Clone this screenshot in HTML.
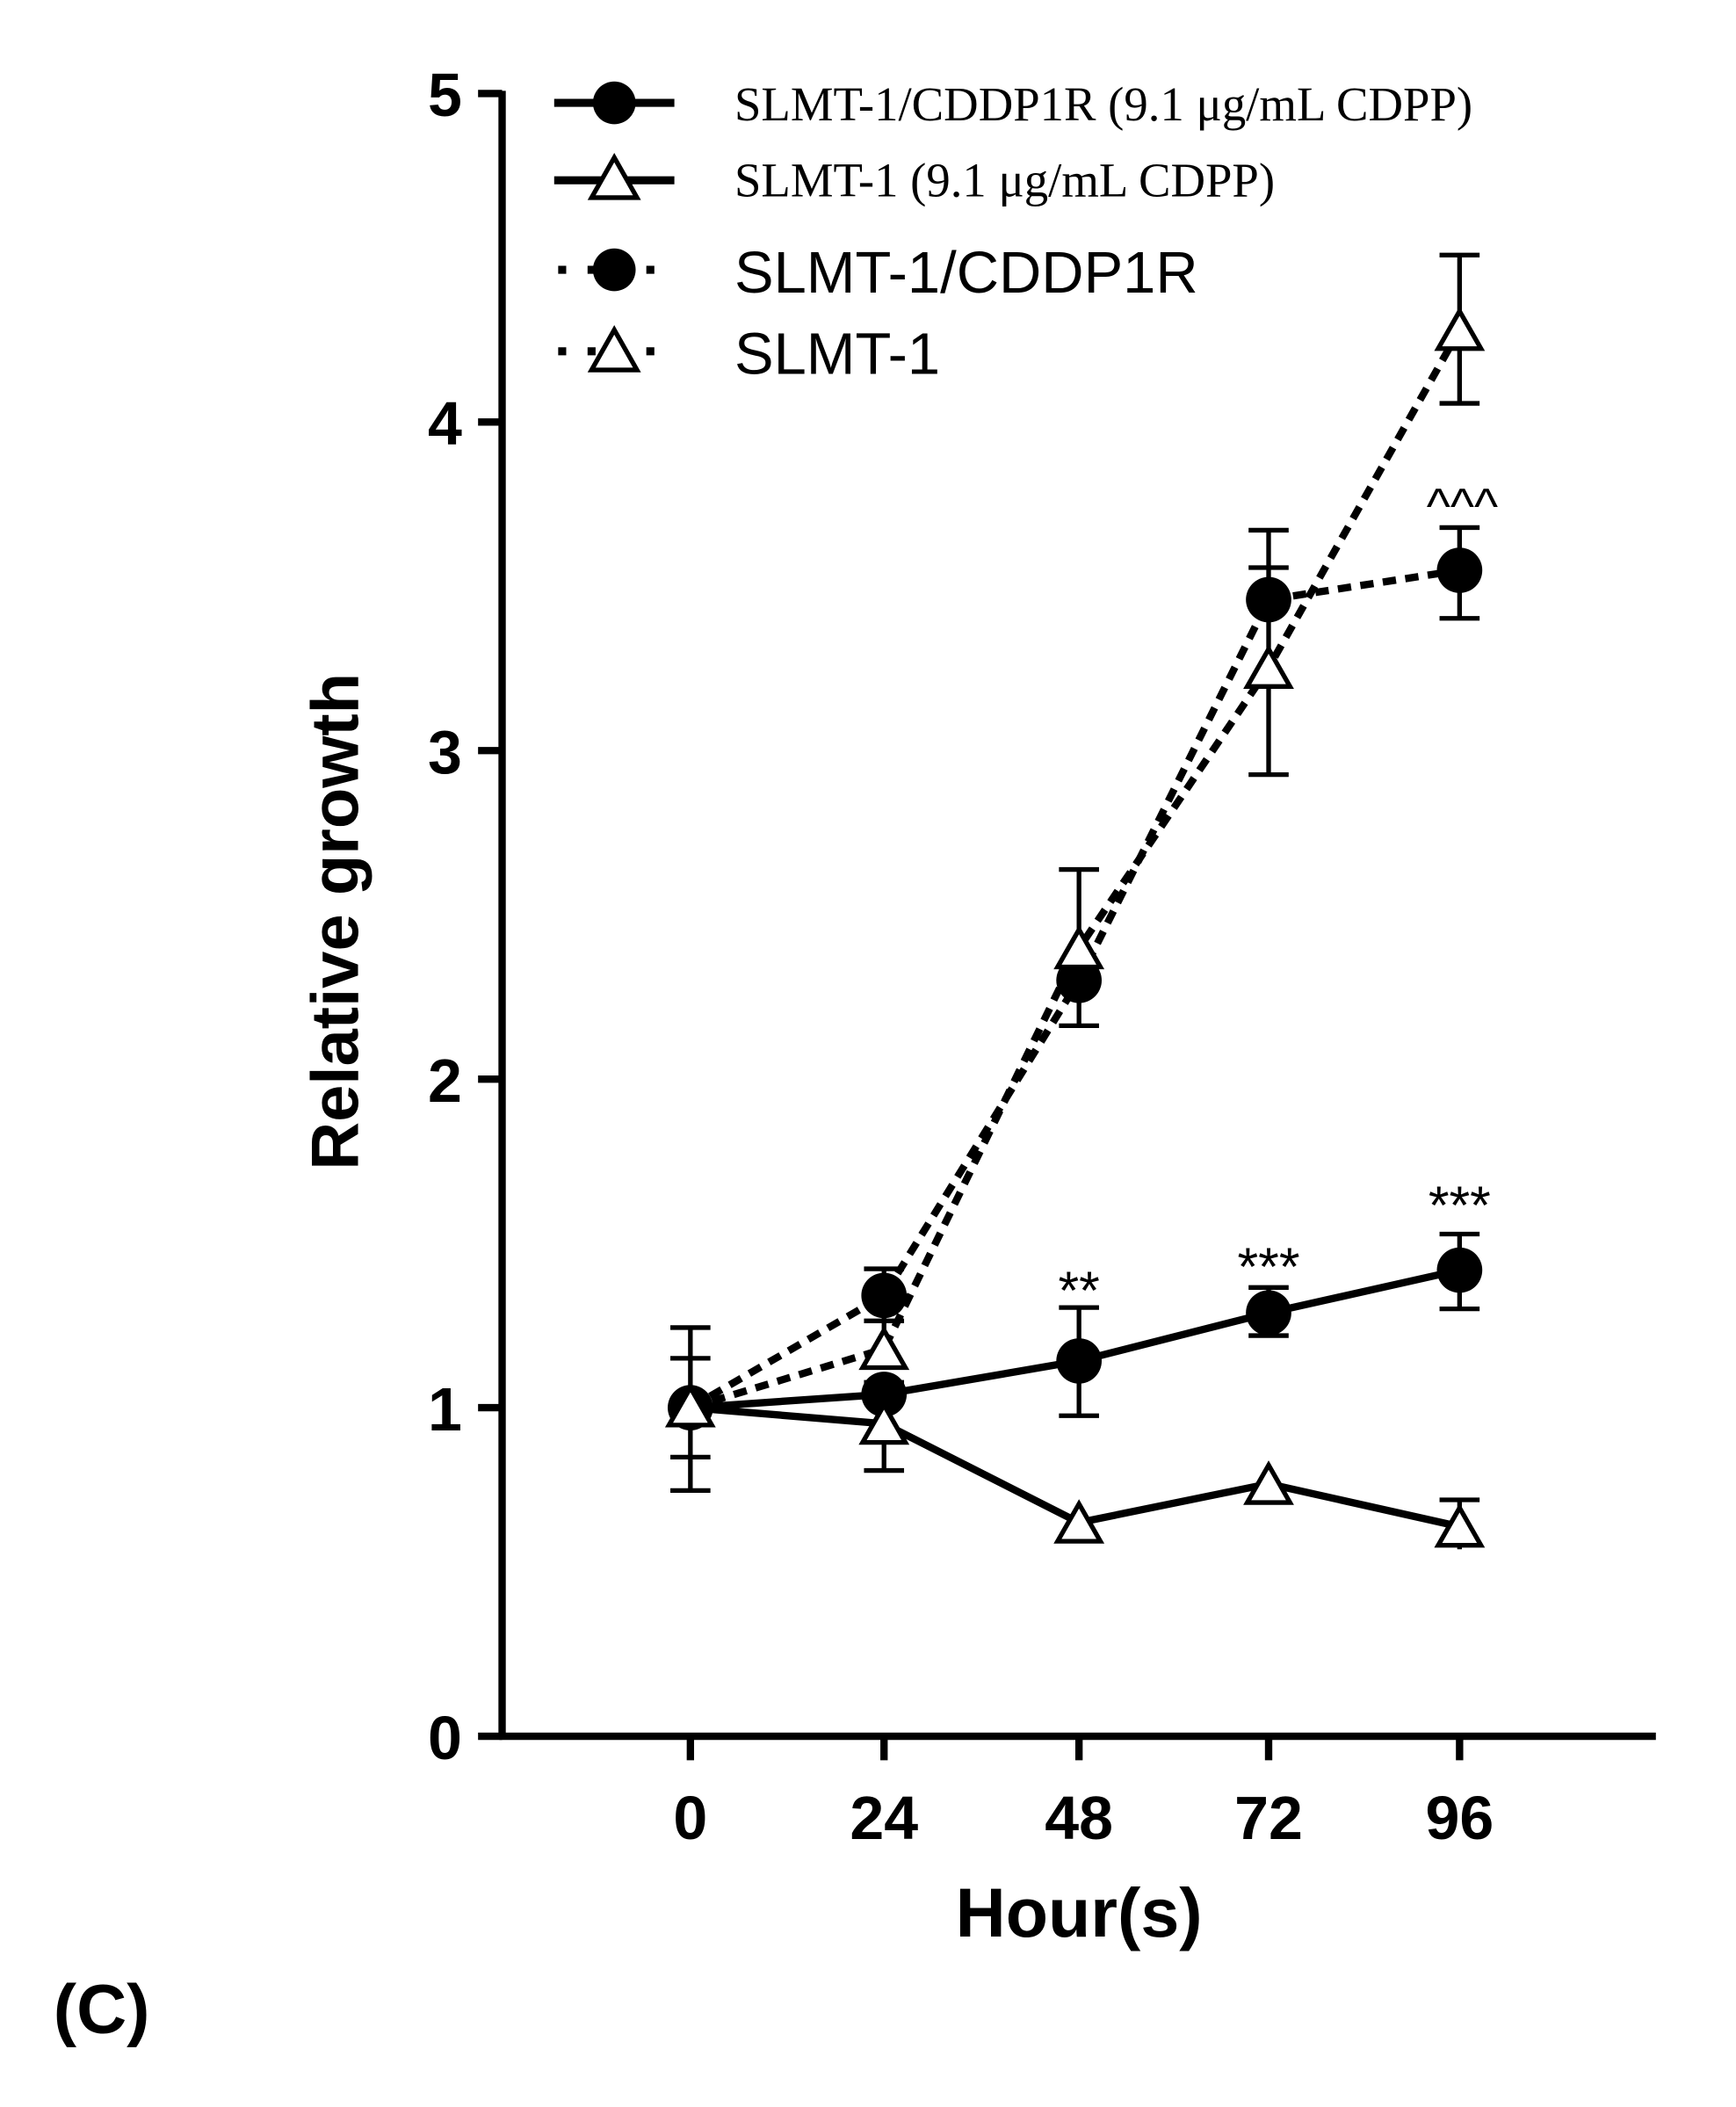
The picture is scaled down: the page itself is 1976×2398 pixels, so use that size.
<!DOCTYPE html>
<html><head><style>html,body{margin:0;padding:0;background:#fff}svg{display:block}</style></head>
<body>
<svg width="1976" height="2398" viewBox="0 0 1300 1577.6" preserveAspectRatio="none" xmlns="http://www.w3.org/2000/svg">
<g stroke="#000" stroke-width="5.5" fill="none">
<line x1="376" y1="68" x2="376" y2="1302"/>
<line x1="374" y1="1300" x2="1240" y2="1300"/>
<line x1="358" y1="70" x2="376" y2="70"/>
<line x1="358" y1="316" x2="376" y2="316"/>
<line x1="358" y1="562" x2="376" y2="562"/>
<line x1="358" y1="808" x2="376" y2="808"/>
<line x1="358" y1="1054" x2="376" y2="1054"/>
<line x1="358" y1="1300" x2="376" y2="1300"/>
<line x1="517" y1="1300" x2="517" y2="1318"/>
<line x1="662" y1="1300" x2="662" y2="1318"/>
<line x1="808" y1="1300" x2="808" y2="1318"/>
<line x1="950" y1="1300" x2="950" y2="1318"/>
<line x1="1093" y1="1300" x2="1093" y2="1318"/>
</g>
<g font-family="Liberation Sans, sans-serif" font-weight="bold" font-size="46" text-anchor="end">
<text x="346" y="87">5</text><text x="346" y="333">4</text><text x="346" y="579">3</text>
<text x="346" y="825">2</text><text x="346" y="1071">1</text><text x="346" y="1317">0</text>
</g>
<g font-family="Liberation Sans, sans-serif" font-weight="bold" font-size="46" text-anchor="middle">
<text x="517" y="1377">0</text><text x="662" y="1377">24</text><text x="808" y="1377">48</text>
<text x="950" y="1377">72</text><text x="1093" y="1377">96</text>
<text x="808" y="1450" font-size="52">Hour(s)</text>
<text x="268" y="690" font-size="50" transform="rotate(-90 268 690)">Relative growth</text>
</g>
<text x="40" y="1522" font-family="Liberation Sans, sans-serif" font-weight="bold" font-size="52">(C)</text>
<g stroke="#000" stroke-width="3.5">
<path d="M517 994V1116M502 994H532M502 1116H532M517 1017V1091M502 1017H532M502 1091H532"/>
<path d="M662 1035V1053M647 1035H677"/>
<path d="M662 1040V1101M647 1101H677"/>
<path d="M808 1058V979M793 979H823M808 1058V1060M793 1060H823"/>
<path d="M950 964V1000M935 964H965M935 1000H965"/>
<path d="M1093 924V980M1078 924H1108M1078 980H1108"/>
<path d="M1093 1160V1123M1078 1123H1108"/>
<path d="M662 950V1002M647 950H677M662 989V1021M647 989H677"/>
<path d="M808 651V768M793 651H823M793 768H823"/>
<path d="M950 397V580M935 397H965M935 425H965M935 580H965"/>
<path d="M1093 191V302M1078 191H1108M1078 302H1108"/>
<path d="M1093 395V463M1078 395H1108M1078 463H1108"/>
</g>
<g stroke="#000" stroke-width="5.5" fill="none" stroke-dasharray="10 7">
<polyline points="517,1054 662,970 808,734 950,449 1093,427"/>
<polyline points="517,1054 662,1010 808,710 950,500 1093,247"/>
</g>
<g stroke="#000" stroke-width="5.5" fill="none">
<polyline points="517,1054 662,1044 808,1019 950,983 1093,951"/>
<polyline points="517,1054 662,1066 808,1140 950,1111 1093,1143"/>
</g>
<g fill="#000">
<circle cx="517" cy="1054" r="17"/><circle cx="662" cy="1044" r="17"/><circle cx="808" cy="1019" r="17"/><circle cx="950" cy="983" r="17"/><circle cx="1093" cy="951" r="17"/>
<circle cx="662" cy="970" r="17"/><circle cx="808" cy="734" r="17"/><circle cx="950" cy="449" r="17"/><circle cx="1093" cy="427" r="17"/>
</g>
<g fill="#fff" stroke="#000" stroke-width="3.5">
<path d="M517 1039l16 28h-32z"/><path d="M662 1052l16 28h-32z"/><path d="M808 1126l16 28h-32z"/><path d="M950 1097l16 28h-32z"/><path d="M1093 1129l16 28h-32z"/>
<path d="M662 996l16 28h-32z"/><path d="M808 696l16 28h-32z"/><path d="M950 486l16 28h-32z"/><path d="M1093 233l16 28h-32z"/>
</g>
<g font-family="Liberation Sans, sans-serif" font-size="40" text-anchor="middle">
<text x="808" y="980">**</text><text x="950" y="962">***</text><text x="1093" y="916">***</text>
<text x="1095" y="392" font-size="38">^^^</text>
</g>
<g stroke="#000" stroke-width="6">
<line x1="415" y1="77" x2="505" y2="77"/><line x1="415" y1="135" x2="505" y2="135"/>
</g>
<g stroke="#000" stroke-width="6" stroke-dasharray="6 16">
<line x1="418" y1="202" x2="505" y2="202"/><line x1="418" y1="263" x2="505" y2="263"/>
</g>
<circle cx="460" cy="77" r="16"/><circle cx="460" cy="202" r="16"/>
<g fill="#fff" stroke="#000" stroke-width="3.5">
<path d="M460 118l17 30h-34z"/><path d="M460 247l17 30h-34z"/>
</g>
<g font-family="Liberation Serif, serif" font-size="36">
<text x="550" y="90">SLMT-1/CDDP1R (9.1 μg/mL CDPP)</text>
<text x="550" y="147">SLMT-1 (9.1 μg/mL CDPP)</text>
</g>
<g font-family="Liberation Sans, sans-serif" font-size="44">
<text x="550" y="219">SLMT-1/CDDP1R</text>
<text x="550" y="280">SLMT-1</text>
</g>
</svg>
</body></html>
